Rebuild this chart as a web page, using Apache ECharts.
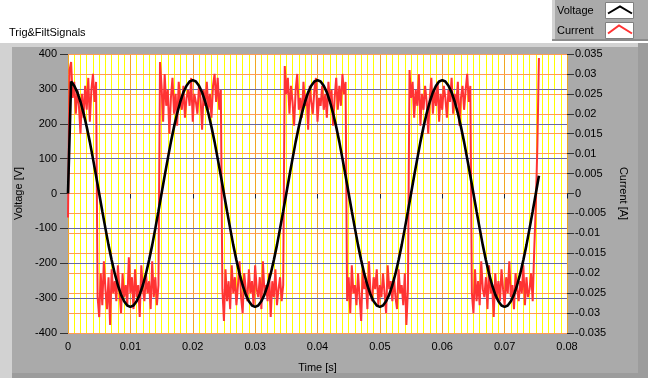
<!DOCTYPE html>
<html>
<head>
<meta charset="utf-8">
<script src="https://cdn.jsdelivr.net/npm/echarts@6/dist/echarts.min.js"></script>
<style>
html,body{margin:0;padding:0;background:#fff;}
#chart{width:648px;height:378px;}
</style>
</head>
<body>
<div id="chart"></div>
<script>
// ---- data ----
var chartTitle = 'Trig&FiltSignals';
var seriesNames = ['Voltage', 'Current'];
var xTickLabels = ['0', '0.01', '0.02', '0.03', '0.04', '0.05', '0.06', '0.07', '0.08'];
var voltageTicks = [-400, -300, -200, -100, 0, 100, 200, 300, 400];
var currentTicks = [-0.035, -0.03, -0.025, -0.02, -0.015, -0.01, -0.005, 0, 0.005, 0.01, 0.015, 0.02, 0.025, 0.03, 0.035];

// voltage samples [V], every 0.5 ms from t = 0
var voltageStep = 0.0005;
var voltageValues = [
  0, 321, 309, 290, 263, 230, 191, 148, 100, 51, 0, -51, -100, -148, -191, -230, -263, -290, -309, -321,
  -325, -321, -309, -290, -263, -230, -191, -148, -100, -51, 0, 51, 100, 148, 191, 230, 263, 290, 309, 321,
  325, 321, 309, 290, 263, 230, 191, 148, 100, 51, 0, -51, -100, -148, -191, -230, -263, -290, -309, -321,
  -325, -321, -309, -290, -263, -230, -191, -148, -100, -51, 0, 51, 100, 148, 191, 230, 263, 290, 309, 321,
  325, 321, 309, 290, 263, 230, 191, 148, 100, 51, 0, -51, -100, -148, -191, -230, -263, -290, -309, -321,
  -325, -321, -309, -290, -263, -230, -191, -148, -100, -51, 0, 51, 100, 148, 191, 230, 263, 290, 309, 321,
  325, 321, 309, 290, 263, 230, 191, 148, 100, 51, 0, -51, -100, -148, -191, -230, -263, -290, -309, -321,
  -325, -321, -309, -290, -263, -230, -191, -148, -100, -51, 0, 51
];

// current samples [mA], every 0.25 ms from t = 0
var currentStep = 0.00025;
var currentMilliAmps = [
  -6,
  31, 33, 24, 28, 20, 26, 22, 15, 25, 19, 27, 21, 29, 18, 26, 30, 23, 28,
  -26, -31, -20, -28, -17, -24, -29, -21, -33, -19, -25, -22, -27, -18, -24, -30, -20, -26, -23, -28,
  -16, -25, -21, -29, -19, -26, -23, -31, -18, -24, -27, -20, -25, -22, -29, -17, -26, -21, -28, -23,
  33, 27, 18, 30, 22, 26, 15, 24, 29, 20, 25, 17, 28, 23, 21, 27, 19, 24, 26, 22,
  29, 18, 25, 23, 20, 27, 24, 16, 26, 22, 28, 21, 25, 19, 27, 30, 23, 29, 21, 26,
  -24, -32, -19, -27, -22, -29, -18, -25, -21, -28, -23, -17, -26, -30, -20, -24, -27, -19, -25, -22,
  -28, -18, -24, -26, -21, -29, -17, -25, -23, -27, -20, -31, -22, -26, -19, -28, -24, -21, -27, -23,
  32, 25, 29, 20, 27, 23, 17, 26, 30, 21, 24, 19, 28, 22, 25, 16, 27, 23, 20, 26,
  29, 18, 24, 22, 27, 21, 25, 19, 28, 23, 26, 17, 24, 29, 21, 27, 22, 30, 25, 28,
  -27, -21, -30, -18, -25, -23, -28, -20, -26, -32, -19, -24, -22, -29, -17, -25, -27, -21, -24, -19,
  -28, -23, -26, -20, -25, -30, -18, -24, -22, -27, -21, -26, -29, -19, -25, -23, -28, -20, -33, -24,
  31, 24, 28, 19, 26, 22, 30, 17, 25, 21, 27, 23, 15, 24, 29, 20, 26, 22, 28, 18,
  25, 21, 27, 24, 19, 26, 23, 29, 20, 25, 22, 28, 17, 24, 27, 21, 26, 30, 23, 27,
  -25, -30, -19, -27, -22, -28, -17, -24, -26, -21, -29, -18, -25, -23, -31, -20, -26, -22, -27, -19,
  -24, -28, -21, -25, -17, -26, -23, -29, -20, -24, -27, -22, -25, -18, -28, -21, -26, -24, -20, -27,
  -14, -3, 12, 34
];

// ---- build ----
var voltageData = voltageValues.map(function (v, i) { return [i * voltageStep, v]; });
var currentData = currentMilliAmps.map(function (v, i) { return [i * currentStep, v / 1000]; });

var FONT = 'Liberation Sans';
var txt = { color: '#000', fontSize: 11, fontFamily: FONT };

function fmtX(v) {
  var idx = Math.round(v / 0.01);
  return xTickLabels[idx] !== undefined ? xTickLabels[idx] : String(v);
}
function fmtC(v) {
  var n = parseFloat(v.toFixed(3));
  if (n === 0) n = 0;
  return String(n);
}

var chart = echarts.init(document.getElementById('chart'), null, { renderer: 'canvas' });
var option = {
  animation: false,
  backgroundColor: '#aaaaaa',
  textStyle: { fontFamily: FONT },
  grid: {
    left: 68, right: 81, top: 54, bottom: 40,
    show: true, backgroundColor: '#ffffff', borderWidth: 0
  },
  graphic: [
    { type: 'rect', shape: { x: 0, y: 0, width: 648, height: 43 }, style: { fill: '#ffffff' }, silent: true },
    { type: 'rect', shape: { x: 0, y: 43, width: 648, height: 4 }, style: { fill: '#d2d2d2' }, silent: true },
    { type: 'rect', shape: { x: 0, y: 43, width: 12, height: 335 }, style: { fill: '#d2d2d2' }, silent: true },
    { type: 'rect', shape: { x: 638, y: 43, width: 10, height: 335 }, style: { fill: '#9c9c9c' }, silent: true },
    { type: 'rect', shape: { x: 12, y: 373, width: 636, height: 5 }, style: { fill: '#9c9c9c' }, silent: true },
    { type: 'text', left: 9, top: 27, style: { text: chartTitle, fill: '#000', font: '11px "Liberation Sans"' }, silent: true },
    // legend panel
    { type: 'rect', shape: { x: 552, y: 0, width: 96, height: 41 }, style: { fill: '#aaaaaa' }, silent: true },
    { type: 'rect', shape: { x: 552, y: 0, width: 3, height: 41 }, style: { fill: '#d2d2d2' }, silent: true },
    { type: 'rect', shape: { x: 552, y: 39, width: 96, height: 2 }, style: { fill: '#8c8c8c' }, silent: true },
    { type: 'text', left: 557, top: 5, style: { text: seriesNames[0], fill: '#000', font: '11px "Liberation Sans"' }, silent: true },
    { type: 'text', left: 557, top: 25, style: { text: seriesNames[1], fill: '#000', font: '11px "Liberation Sans"' }, silent: true },
    { type: 'rect', shape: { x: 605.5, y: 2.5, width: 28, height: 16 }, style: { fill: '#ffffff', stroke: '#808080', lineWidth: 1 }, silent: true },
    { type: 'rect', shape: { x: 605.5, y: 22.5, width: 28, height: 16 }, style: { fill: '#ffffff', stroke: '#808080', lineWidth: 1 }, silent: true },
    { type: 'polyline', shape: { points: [[608, 13.5], [620, 6.5], [632, 13.5]] }, style: { stroke: '#000000', lineWidth: 2, fill: null }, silent: true },
    { type: 'polyline', shape: { points: [[608, 33.5], [619, 25.5], [632, 33.5]] }, style: { stroke: '#ff3333', lineWidth: 2, fill: null }, silent: true }
  ],
  xAxis: {
    type: 'value', min: 0, max: 0.08, interval: 0.01, z: 0,
    name: 'Time [s]', nameLocation: 'middle', nameGap: 29, nameTextStyle: txt,
    axisLine: { show: false },
    axisTick: { show: true, length: 5, lineStyle: { color: '#222' } },
    axisLabel: { margin: 8, formatter: fmtX, color: '#000', fontSize: 11, fontFamily: FONT },
    splitLine: { show: true, lineStyle: { color: '#f0a820', width: 1 } },
    minorTick: { show: false, splitNumber: 10 },
    minorSplitLine: { show: true, lineStyle: { color: '#ffff00', width: 1 } }
  },
  yAxis: [
    {
      type: 'value', position: 'left', z: 1, min: voltageTicks[0], max: voltageTicks[voltageTicks.length - 1], interval: 100,
      name: 'Voltage [V]', nameLocation: 'middle', nameGap: 36, nameRotate: 90, nameTextStyle: txt,
      axisLine: { show: false },
      axisTick: { show: true, length: 8, lineStyle: { color: '#333' } },
      axisLabel: { margin: 11, color: '#000', fontSize: 11, fontFamily: FONT },
      splitLine: { show: true, lineStyle: { color: '#6868a0', width: 1, type: 'solid' } }
    },
    {
      type: 'value', position: 'right', z: 1, min: currentTicks[0], max: currentTicks[currentTicks.length - 1], interval: 0.005,
      name: 'Current [A]', nameLocation: 'middle', nameGap: 50, nameRotate: -90, nameTextStyle: txt,
      axisLine: { show: false },
      axisTick: { show: true, length: 7, lineStyle: { color: '#333' } },
      axisLabel: { margin: 8, formatter: fmtC, color: '#000', fontSize: 11, fontFamily: FONT },
      splitLine: { show: true, lineStyle: { color: '#ff9a55', width: 1, type: 'solid' } }
    }
  ],
  series: [
    {
      name: seriesNames[1], type: 'line', yAxisIndex: 1, data: currentData,
      showSymbol: false, symbol: 'none', z: 2,
      lineStyle: { color: '#ff3333', width: 2 }
    },
    {
      name: seriesNames[0], type: 'line', yAxisIndex: 0, data: voltageData,
      showSymbol: false, symbol: 'none', z: 3,
      lineStyle: { color: '#000000', width: 2.6 }
    }
  ]
};
chart.setOption(option);
</script>
</body>
</html>
